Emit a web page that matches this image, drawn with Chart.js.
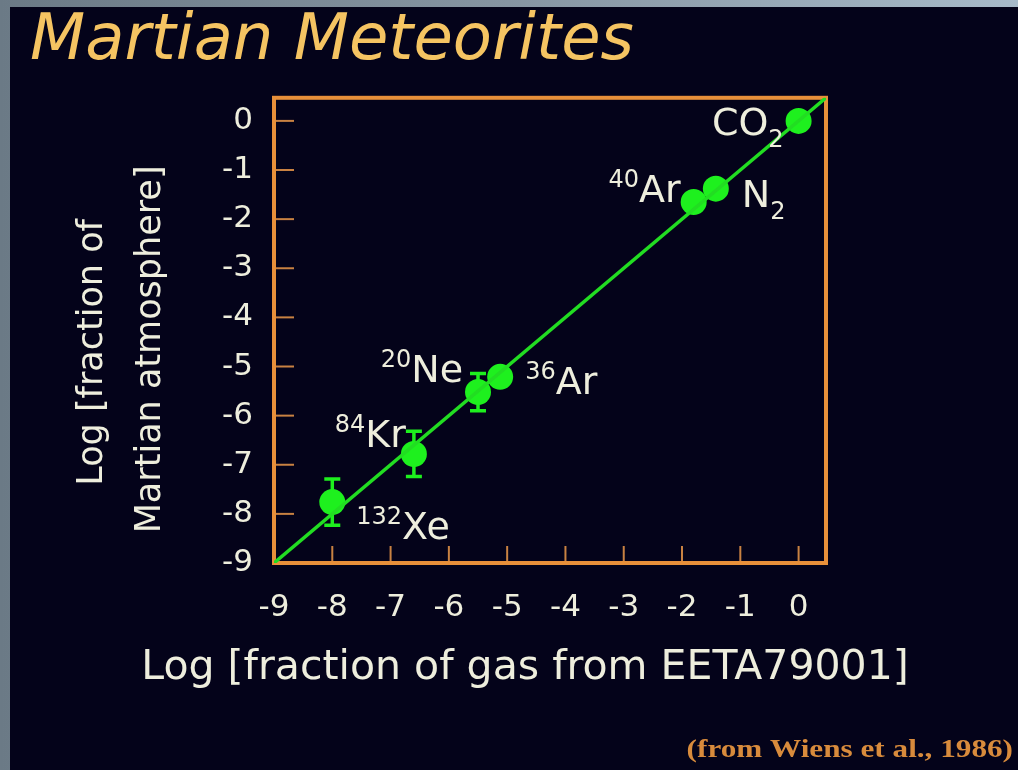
<!DOCTYPE html>
<html>
<head>
<meta charset="utf-8">
<title>Martian Meteorites</title>
<script src="https://cdn.jsdelivr.net/npm/chart.js@4.4.1/dist/chart.umd.min.js"></script>
<style>
  html, body { margin: 0; padding: 0; }
  body {
    position: relative;
    width: 1018px;
    height: 770px;
    overflow: hidden;
    background: linear-gradient(to right, #6b7a86, #8695a2 50%, #a8bbca);
  }
  #panel { position: absolute; left: 10px; top: 7px; right: 0; bottom: 0; background: #04031a; }
  #wrap { position: absolute; left: 0; top: 0; width: 1018px; height: 770px; }
</style>
</head>
<body>
<div id="panel"></div>
<div id="wrap"><canvas id="meteoriteChart" width="1018" height="770"></canvas></div>
<script>
// gases, in the order they sit along the line (bottom-left to top-right)
const speciesMain = ["Xe", "Kr", "Ne", "Ar", "Ar", "N", "CO"];
const speciesSup = ["132", "84", "20", "36", "40", "", ""];
const speciesSub = ["", "", "", "", "", "2", "2"];

// log fraction of gas from EETA79001 (x) and of Martian atmosphere (y)
const meteoriteX = [-8.0, -6.6, -5.5, -5.12, -1.8, -1.42, 0];
const atmosphereY = [-7.76, -6.78, -5.52, -5.21, -1.65, -1.38, 0];
const yError = [0.47, 0.46, 0.38, 0, 0, 0, 0];

// 1:1 line
const lineX = [-9, 0.47];
const lineY = [-9, 0.47];

const xTickValues = [-9, -8, -7, -6, -5, -4, -3, -2, -1, 0];
const yTickValues = [-9, -8, -7, -6, -5, -4, -3, -2, -1, 0];
const axisMin = -9;
const axisMax = 0.47;

const textColor = "#eeeedd";
const titleColor = "#f5c462";
const frameColor = "#e8903a";
const green = "#1ef01e";

// label placement next to each dot (pixels)
const labelPlacement = [
  { dx: 24, dy: 37, align: "left" },
  { dx: -8, dy: -7, align: "right" },
  { dx: -15, dy: -10, align: "right" },
  { dx: 25, dy: 17, align: "left" },
  { dx: -13, dy: 0, align: "right" },
  { dx: 26, dy: 18, align: "left" },
  { dx: -15, dy: 14, align: "right" },
];

// frame, inside ticks and error bars go under the data
const framePlugin = {
  id: "frame",
  beforeDatasetsDraw(chart) {
    const { ctx, chartArea: a, scales } = chart;
    ctx.save();
    ctx.strokeStyle = "#c98242";
    ctx.lineWidth = 2;
    xTickValues.forEach((v) => {
      const px = scales.x.getPixelForValue(v);
      ctx.beginPath();
      ctx.moveTo(px, a.bottom);
      ctx.lineTo(px, a.bottom - 17);
      ctx.stroke();
    });
    yTickValues.forEach((v) => {
      const py = scales.y.getPixelForValue(v);
      ctx.beginPath();
      ctx.moveTo(a.left, py);
      ctx.lineTo(a.left + 20, py);
      ctx.stroke();
    });
    ctx.strokeStyle = frameColor;
    ctx.lineWidth = 4;
    ctx.strokeRect(a.left, a.top, a.right - a.left, a.bottom - a.top);

    // error bars
    ctx.strokeStyle = green;
    ctx.lineWidth = 3.5;
    yError.forEach((err, i) => {
      if (!err) return;
      const px = scales.x.getPixelForValue(meteoriteX[i]);
      const top = scales.y.getPixelForValue(atmosphereY[i] + err);
      const bot = scales.y.getPixelForValue(atmosphereY[i] - err);
      ctx.beginPath();
      ctx.moveTo(px, top);
      ctx.lineTo(px, bot);
      ctx.moveTo(px - 8, top);
      ctx.lineTo(px + 8, top);
      ctx.moveTo(px - 8, bot);
      ctx.lineTo(px + 8, bot);
      ctx.stroke();
    });
    ctx.restore();
  },
};

// gas labels, axis titles and the source note
const textPlugin = {
  id: "texts",
  afterDraw(chart) {
    const { ctx, chartArea: a, scales } = chart;
    ctx.save();
    ctx.fillStyle = textColor;
    ctx.textBaseline = "alphabetic";
    ctx.textAlign = "left";

    const mainFont = "38px 'DejaVu Sans'";
    const smallFont = "24px 'DejaVu Sans'";
    speciesMain.forEach((name, i) => {
      const place = labelPlacement[i];
      const px = scales.x.getPixelForValue(meteoriteX[i]);
      const py = scales.y.getPixelForValue(atmosphereY[i]);
      const parts = [];
      if (speciesSup[i]) parts.push({ text: speciesSup[i], font: smallFont, shift: -15 });
      parts.push({ text: name, font: mainFont, shift: 0 });
      if (speciesSub[i]) parts.push({ text: speciesSub[i], font: smallFont, shift: 12 });
      let total = 0;
      parts.forEach((p) => {
        ctx.font = p.font;
        p.w = ctx.measureText(p.text).width;
        total += p.w;
      });
      let x = px + place.dx - (place.align === "right" ? total : 0);
      const base = py + place.dy;
      parts.forEach((p) => {
        ctx.font = p.font;
        ctx.fillText(p.text, x, base + p.shift);
        x += p.w;
      });
    });

    // x axis title
    ctx.font = "41px 'DejaVu Sans'";
    ctx.textAlign = "center";
    ctx.fillText("Log [fraction of gas from EETA79001]", (a.left + a.right) / 2 - 25, 679);

    // y axis title, two lines
    ctx.font = "35px 'DejaVu Sans'";
    ctx.save();
    ctx.translate(102, (a.top + a.bottom) / 2 + 22);
    ctx.rotate(-Math.PI / 2);
    ctx.fillText("Log [fraction of", 0, 0);
    ctx.restore();
    ctx.save();
    ctx.translate(160, (a.top + a.bottom) / 2 + 19);
    ctx.rotate(-Math.PI / 2);
    ctx.fillText("Martian atmosphere]", 0, 0);
    ctx.restore();

    // source
    ctx.fillStyle = "#d88b3c";
    ctx.font = "bold 26px 'Liberation Serif'";
    ctx.textAlign = "right";
    ctx.translate(1013, 757);
    ctx.scale(1.2, 1);
    ctx.fillText("(from Wiens et al., 1986)", 0, 0);
    ctx.restore();
  },
};

document.addEventListener("DOMContentLoaded", () => {
  const ctx = document.querySelector("#meteoriteChart").getContext("2d");

  const points = meteoriteX.map((x, i) => ({ x: x, y: atmosphereY[i] }));
  const line = lineX.map((x, i) => ({ x: x, y: lineY[i] }));

  const tickFont = { family: "'DejaVu Sans'", size: 31 };

  new Chart(ctx, {
    type: "scatter",
    data: {
      datasets: [
        {
          type: "line",
          label: "1:1",
          data: line,
          borderColor: "#22dd22",
          borderWidth: 3.5,
          pointRadius: 0,
          fill: false,
        },
        {
          label: "EETA79001",
          data: points,
          backgroundColor: green,
          borderWidth: 0,
          pointRadius: 13,
        },
      ],
    },
    options: {
      responsive: false,
      devicePixelRatio: 1,
      animation: false,
      layout: { padding: { left: 30, right: 192, top: 0, bottom: 0 } },
      plugins: {
        legend: { display: false },
        tooltip: { enabled: false },
        title: {
          display: true,
          text: "Martian Meteorites",
          align: "start",
          color: titleColor,
          font: { family: "'DejaVu Sans'", size: 64, style: "italic", weight: "normal", lineHeight: 1.2 },
          padding: { top: 4, bottom: 17 },
        },
      },
      scales: {
        x: {
          type: "linear",
          min: axisMin,
          max: axisMax,
          afterBuildTicks: (s) => {
            s.ticks = xTickValues.map((v) => ({ value: v }));
          },
          afterFit: (s) => {
            s.height = 207;
          },
          grid: { display: false, drawTicks: false },
          border: { display: false },
          ticks: {
            color: textColor,
            font: tickFont,
            padding: 26,
            autoSkip: false,
            maxRotation: 0,
            includeBounds: false,
            callback: (v) => String(v),
          },
        },
        y: {
          type: "linear",
          min: axisMin,
          max: axisMax,
          afterBuildTicks: (s) => {
            s.ticks = yTickValues.map((v) => ({ value: v }));
          },
          afterFit: (s) => {
            s.width = 244;
          },
          grid: { display: false, drawTicks: false },
          border: { display: false },
          ticks: {
            color: textColor,
            font: tickFont,
            padding: 21,
            autoSkip: false,
            includeBounds: false,
            callback: (v) => String(v),
          },
        },
      },
    },
    plugins: [framePlugin, textPlugin],
  });
});
</script>
</body>
</html>
